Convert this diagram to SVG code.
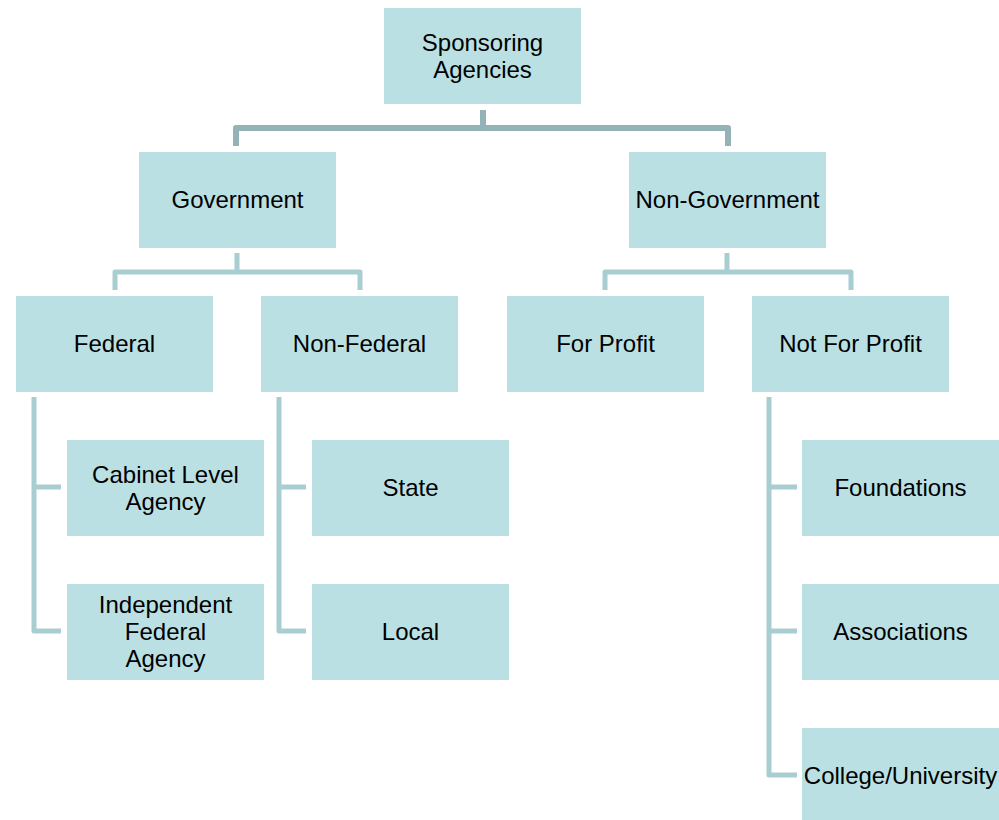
<svg xmlns="http://www.w3.org/2000/svg" width="999" height="820" viewBox="0 0 999 820">
<style>
.box{fill:#BBE0E3;}
.t{font-family:"Liberation Sans",Arial,sans-serif;font-size:24px;fill:#000;text-anchor:middle;}
.c1{fill:none;stroke:#95B3B7;stroke-width:6;stroke-linejoin:round;}
.c2{fill:none;stroke:#A9CED1;stroke-width:5;stroke-linejoin:round;}
</style>
<rect width="999" height="820" fill="#fff"/>
<g id="connectors">
<path class="c1" d="M483,110 V128 M236,146 V128 H728 V146"/>
<path class="c2" d="M237,253 V272 M115,290 V272 H360 V290"/>
<path class="c2" d="M727,253 V272 M605,290 V272 H851 V290"/>
<path class="c2" d="M34,397 V631 H61 M34,487 H61"/>
<path class="c2" d="M279,397 V631 H306 M279,487 H306"/>
<path class="c2" d="M769,397 V775 H797 M769,487 H797 M769,631 H797"/>
</g>
<g id="n-sponsoring"><rect class="box" x="384" y="8" width="197" height="96"/><text class="t" x="482.5" y="51">Sponsoring</text><text class="t" x="482.5" y="78">Agencies</text></g>
<g id="n-government"><rect class="box" x="139" y="152" width="197" height="96"/><text class="t" x="237.5" y="208">Government</text></g>
<g id="n-nongovernment"><rect class="box" x="629" y="152" width="197" height="96"/><text class="t" x="727.5" y="208">Non-Government</text></g>
<g id="n-federal"><rect class="box" x="16" y="296" width="197" height="96"/><text class="t" x="114.5" y="352">Federal</text></g>
<g id="n-nonfederal"><rect class="box" x="261" y="296" width="197" height="96"/><text class="t" x="359.5" y="352">Non-Federal</text></g>
<g id="n-forprofit"><rect class="box" x="507" y="296" width="197" height="96"/><text class="t" x="605.5" y="352">For Profit</text></g>
<g id="n-notforprofit"><rect class="box" x="752" y="296" width="197" height="96"/><text class="t" x="850.5" y="352">Not For Profit</text></g>
<g id="n-cabinet"><rect class="box" x="67" y="440" width="197" height="96"/><text class="t" x="165.5" y="483">Cabinet Level</text><text class="t" x="165.5" y="510">Agency</text></g>
<g id="n-independent"><rect class="box" x="67" y="584" width="197" height="96"/><text class="t" x="165.5" y="613">Independent</text><text class="t" x="165.5" y="640">Federal</text><text class="t" x="165.5" y="667">Agency</text></g>
<g id="n-state"><rect class="box" x="312" y="440" width="197" height="96"/><text class="t" x="410.5" y="496">State</text></g>
<g id="n-local"><rect class="box" x="312" y="584" width="197" height="96"/><text class="t" x="410.5" y="640">Local</text></g>
<g id="n-foundations"><rect class="box" x="802" y="440" width="197" height="96"/><text class="t" x="900.5" y="496">Foundations</text></g>
<g id="n-associations"><rect class="box" x="802" y="584" width="197" height="96"/><text class="t" x="900.5" y="640">Associations</text></g>
<g id="n-college"><rect class="box" x="802" y="728" width="197" height="96"/><text class="t" x="900.5" y="784">College/University</text></g>
</svg>
